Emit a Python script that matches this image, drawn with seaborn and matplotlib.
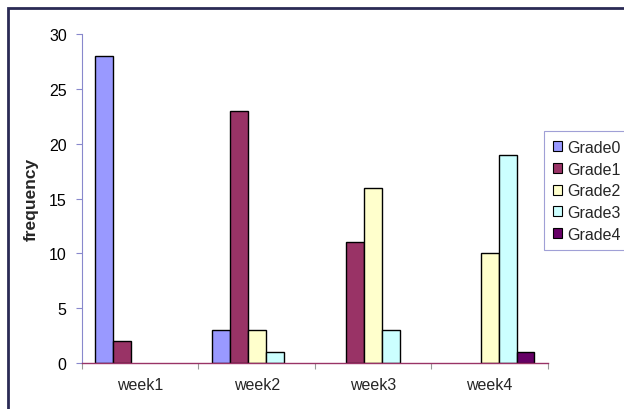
"""Weekly grade frequency, Excel-style grouped bars."""
import matplotlib
matplotlib.use("Agg")
import matplotlib.pyplot as plt
import pandas as pd
import seaborn as sns
from matplotlib.patches import Rectangle

weeks = ["week1", "week2", "week3", "week4"]
grades = ["Grade0", "Grade1", "Grade2", "Grade3", "Grade4"]
grade0 = [28, 3, 0, 0]
grade1 = [2, 23, 11, 0]
grade2 = [0, 3, 16, 10]
grade3 = [0, 1, 3, 19]
grade4 = [0, 0, 0, 1]
y_ticks = [0, 5, 10, 15, 20, 25, 30]

colors = ["#9999FF", "#993366", "#FFFFCC", "#CCFFFF", "#660066"]

rows = []
for g, vals in zip(grades, [grade0, grade1, grade2, grade3, grade4]):
    for w, v in zip(weeks, vals):
        rows.append({"week": w, "grade": g, "frequency": v})
df = pd.DataFrame(rows)

sns.set_style("white")
plt.rcParams["font.family"] = ["Liberation Sans", "DejaVu Sans"]

fig = plt.figure(figsize=(6.24, 4.10), dpi=100)
ax = fig.add_axes([0.1314, 0.1122, 0.7466, 0.8024])

sns.barplot(
    data=df, x="week", y="frequency", hue="grade", hue_order=grades,
    order=weeks, palette=colors, width=0.77, edgecolor="black",
    linewidth=1.0, saturation=1, ax=ax,
)
for p in ax.patches:
    if p.get_height() == 0:
        p.set_linewidth(0)

ax.set_xlim(-0.5, 3.5)
ax.set_ylim(0, 30)
ax.set_yticks(y_ticks)
ax.tick_params(axis="y", labelsize=11.5, length=4, width=0.8, colors="#8888cc",
               labelcolor="black", direction="out", left=True, pad=7)
ax.tick_params(axis="x", which="major", length=0, labelsize=11.5, pad=10)
ax.set_xticks([-0.5, 0.5, 1.5, 2.5, 3.5], minor=True)
ax.tick_params(axis="x", which="minor", length=4, width=0.8, color="#999999",
               direction="out", bottom=True)
ax.set_xlabel("")
ax.set_ylabel("frequency", fontsize=12.5, fontweight="bold", labelpad=7)

for side in ["top", "right"]:
    ax.spines[side].set_visible(False)
ax.spines["left"].set_color("#8888cc")
ax.spines["left"].set_linewidth(0.8)
ax.spines["bottom"].set_color("#993366")
ax.spines["bottom"].set_linewidth(1.0)

leg = ax.legend(
    loc="upper left", bbox_to_anchor=(0.9915, 0.705), frameon=True,
    fontsize=11.5, handlelength=0.6, handleheight=0.6, handletextpad=0.3,
    labelspacing=0.42, borderpad=0.55, borderaxespad=0, fancybox=False,
)
leg.get_frame().set_edgecolor("#8888cc")
leg.get_frame().set_linewidth(0.8)
for h in leg.legend_handles:
    h.set_edgecolor("black")
    h.set_linewidth(0.8)

fig.patches.append(Rectangle((8 / 624, -0.1), 1.2, 1 - 9 / 410 + 0.1,
                             transform=fig.transFigure, fill=False,
                             edgecolor="#2a2a55", linewidth=2))

fig.savefig("out.png", dpi=100)
plt.close(fig)
